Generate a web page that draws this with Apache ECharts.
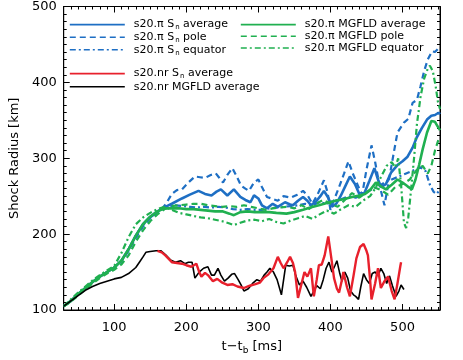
<!DOCTYPE html>
<html><head><meta charset="utf-8">
<script src="https://cdn.jsdelivr.net/npm/echarts@6/dist/echarts.min.js"></script>
<style>html,body{margin:0;padding:0;background:#fff}#c{width:463px;height:360px}</style>
</head><body><div id="c"></div>
<script>
// ---- data (t - t_b [ms], shock radius [km]) ----
const piSnAvg = [[30,105],[40,112],[50,121],[60,129],[70,137],[80,144],[90,150],[100,156],[110,165],[120,180],[130,198],[140,213],[150,223],[160,230],[171,236],[180,240],[194,247],[205,252],[217,257],[226,253],[235,251],[242,256],[248,259],[257,251],[266,259],[275,249],[282,245],[289,242],[294,251],[300,247],[305,238],[312,234],[320,240],[327,236],[337,242],[344,239],[348,238],[355,244],[362,249],[368,244],[373,238],[380,243],[386,250],[391,257],[397,248],[402,236],[408,240],[414,250],[420,262],[427,276],[434,266],[441,251],[447,254],[454,270],[461,287],[466,272],[470,262],[477,266],[484,281],[493,291],[500,296],[507,302],[514,314],[520,328],[527,340],[534,351],[540,356],[545,357],[550,360],[552,358]];
const piSnPole = [[30,105],[40,112],[50,121],[60,129],[70,137],[80,144],[90,150],[100,156],[110,164],[120,178],[130,195],[140,210],[150,221],[160,229],[165,232],[172,240],[180,253],[187,258],[194,259],[203,268],[212,276],[219,275],[226,274],[234,278],[241,280],[246,274],[251,268],[257,278],[264,287],[270,276],[276,264],[282,260],[287,257],[294,268],[300,272],[305,262],[312,249],[318,247],[327,244],[335,250],[345,248],[354,252],[362,257],[369,250],[375,240],[382,252],[391,271],[396,255],[400,232],[405,245],[412,262],[419,280],[425,296],[431,280],[439,262],[444,252],[450,285],[457,317],[462,295],[468,265],[475,238],[481,270],[488,308],[493,334],[502,347],[508,352],[514,373],[520,377],[525,395],[530,415],[535,430],[541,441],[545,440],[549,444],[552,440]];
const piSnEq = [[30,105],[40,112],[50,121],[60,129],[70,137],[80,144],[90,150],[100,156],[110,165],[120,180],[130,198],[140,212],[150,222],[160,229],[165,232],[175,236],[185,238],[195,237],[205,236],[215,235],[225,236],[235,235],[245,236],[255,235],[265,233],[275,232],[285,233],[295,232],[305,232],[315,234],[325,235],[335,236],[345,237],[355,238],[365,240],[375,238],[385,242],[395,240],[405,244],[415,246],[425,250],[435,248],[445,252],[455,258],[465,262],[475,268],[485,272],[495,276],[505,280],[515,284],[525,288],[532,283],[538,265],[543,256],[547,253],[552,258]];
const piMgAvg = [[30,105],[40,112],[50,121],[60,129],[70,137],[80,144],[90,150],[100,156],[110,165],[120,180],[130,198],[140,213],[150,223],[160,230],[170,234],[180,234],[190,234],[200,233],[210,233],[220,232],[230,231],[240,230],[250,230],[260,227],[266,225],[275,229],[285,230],[295,229],[305,229],[315,229],[325,228],[339,227],[350,229],[362,232],[372,235],[384,238],[395,241],[407,244],[418,246],[430,249],[440,251],[448,253],[455,258],[463,268],[470,263],[477,259],[485,265],[493,272],[500,268],[507,263],[513,259],[518,272],[523,291],[528,312],[534,334],[540,349],[545,348],[550,340],[552,337]];
const piMgPole = [[30,105],[40,111],[50,119],[60,127],[70,135],[80,142],[90,148],[100,153],[110,160],[120,172],[130,190],[140,205],[150,217],[160,226],[170,233],[180,237],[190,238],[200,239],[210,240],[220,240],[230,238],[240,237],[250,236],[260,237],[270,236],[280,238],[290,236],[300,234],[310,232],[320,234],[330,235],[340,236],[350,234],[360,238],[370,233],[380,240],[390,245],[400,240],[410,236],[420,245],[430,254],[440,248],[450,255],[460,262],[470,258],[480,252],[490,262],[500,266],[510,272],[520,285],[528,290],[535,280],[540,290],[545,310],[550,325],[552,328]];
const piMgEq = [[30,105],[40,114],[50,123],[60,131],[70,139],[80,146],[90,152],[100,158],[110,175],[120,196],[130,213],[140,222],[150,228],[160,233],[170,236],[180,232],[190,228],[200,226],[210,224],[220,222],[230,221],[240,219],[250,217],[260,214],[266,212],[275,215],[285,218],[295,219],[305,217],[315,220],[325,216],[335,214],[345,218],[355,221],[365,224],[375,220],[385,226],[395,231],[405,227],[415,233],[425,238],[435,236],[445,244],[455,250],[462,260],[470,275],[478,290],[485,295],[490,288],[494,300],[498,265],[502,215],[505,208],[508,222],[512,260],[516,300],[520,345],[525,381],[530,405],[535,418],[538,422],[542,415],[546,395],[549,375],[552,365]];
const nrSnAvg = [[160,178],[166,176],[171,172],[176,167],[180,163],[187,162],[194,161],[200,159],[207,157],[214,161],[218,150],[221,144],[226,149],[230,146],[237,138],[243,141],[250,136],[257,133],[264,134],[271,131],[280,129],[288,132],[296,134],[302,136],[307,142],[314,147],[321,155],[327,170],[331,162],[335,155],[340,163],[344,170],[348,162],[351,150],[355,116],[360,135],[364,150],[368,144],[373,155],[377,118],[381,140],[384,159],[388,160],[392,172],[397,197],[401,170],[405,142],[409,128],[412,123],[416,140],[418,150],[423,130],[427,118],[432,145],[436,168],[441,183],[446,187],[450,178],[452,172],[455,140],[457,114],[462,135],[466,155],[470,129],[475,138],[480,144],[485,125],[489,114],[493,135],[497,158],[498,163]];
const nrMgAvg = [[30,105],[40,112],[50,119],[60,126],[70,131],[80,135],[90,138],[100,141],[110,143],[120,148],[130,156],[135,163],[140,170],[144,176],[150,177],[158,178],[165,178],[171,173],[178,166],[185,163],[192,165],[198,161],[203,163],[208,163],[212,142],[218,150],[224,155],[230,157],[235,146],[239,146],[244,155],[248,146],[253,138],[258,142],[263,147],[267,148],[272,140],[276,133],[280,125],[286,128],[292,135],[298,140],[303,138],[308,146],[312,150],[316,155],[321,150],[326,140],[332,120],[338,159],[343,158],[348,159],[352,145],[357,133],[362,138],[367,130],[373,118],[377,125],[381,132],[386,128],[390,140],[394,155],[398,163],[402,150],[406,158],[409,165],[413,148],[416,138],[420,150],[424,142],[428,125],[432,120],[435,118],[439,114],[442,130],[446,148],[450,140],[454,135],[458,148],[462,150],[466,145],[470,155],[474,148],[478,135],[482,145],[486,132],[491,118],[495,125],[498,133],[500,130],[502,127]];

const xMajorTicks = [100,200,300,400,500];
const xMinorTicks = [40,50,60,70,80,90,110,120,130,140,150,160,170,180,190,210,220,230,240,250,260,270,280,290,310,320,330,340,350,360,370,380,390,410,420,430,440,450,460,470,480,490,510,520,530,540,550];

const BLUE = '#1e6fc4', GREEN = '#20b050', RED = '#e8202c', BLACK = '#000';
const FONT = 'DejaVu Sans';

const labels = {
  piSnAvg: 's20.π S{sub|n} average',
  piSnPole: 's20.π S{sub|n} pole',
  piSnEq: 's20.π S{sub|n} equator',
  piMgAvg: 's20.π MGFLD average',
  piMgPole: 's20.π MGFLD pole',
  piMgEq: 's20.π MGFLD equator',
  nrSnAvg: 's20.nr S{sub|n} average',
  nrMgAvg: 's20.nr MGFLD average'
};
const DASH = [6,4], DASHDOT = [6,3,2,3];

function mkSeries(name, data, color, type, width) {
  return {name, type:'line', data, symbol:'circle', showSymbol:false, symbolSize:0,
    xAxisIndex:0, yAxisIndex:0,
    lineStyle:{color, width, type}, itemStyle:{color}, animation:false, z:2};
}
const series = [
  mkSeries('piSnPole', piSnPole, BLUE, DASH, 2.2),
  mkSeries('piSnEq', piSnEq, BLUE, DASHDOT, 2.2),
  mkSeries('piSnAvg', piSnAvg, BLUE, 'solid', 2.6),
  mkSeries('piMgPole', piMgPole, GREEN, DASH, 2.2),
  mkSeries('piMgEq', piMgEq, GREEN, DASHDOT, 2.2),
  mkSeries('piMgAvg', piMgAvg, GREEN, 'solid', 2.6),
  mkSeries('nrMgAvg', nrMgAvg, BLACK, 'solid', 1.6),
  mkSeries('nrSnAvg', nrSnAvg, RED, 'solid', 2.4)
];

const legendText = {
  fontFamily: FONT, fontSize: 11, color: '#000', padding:[0,0,0,4],
  rich: { sub: { fontFamily: FONT, fontSize: 7, padding:[6,0,0,1] } }
};
function mkLegend(data, left, top) {
  return {data, left, top, orient:'vertical', itemWidth:55, itemHeight:14, itemGap:0.5,
    selectedMode:false, textStyle: legendText,
    itemStyle:{opacity:0, borderWidth:0},
    lineStyle:{width:1.6}, formatter: n => labels[n]};
}

const axisLineStyle = {color:'#000', width:1};
const chart = echarts.init(document.getElementById('c'), null, {renderer:'canvas'});
chart.setOption({
  animation:false,
  backgroundColor:'#fff',
  grid:{left:56, right:23, top:4, bottom:44, show:true, borderColor:'#000', borderWidth:1},
  legend:[
    mkLegend(['piSnAvg','piSnPole','piSnEq'], 64, 14),
    mkLegend(['piMgAvg','piMgPole','piMgEq'], 235, 14),
    Object.assign(mkLegend(['nrSnAvg','nrMgAvg'], 64, 63), {itemGap:1})
  ],
  xAxis:[
    {type:'value', min:30, max:552, position:'bottom',
     axisLine:{show:true, lineStyle:axisLineStyle},
     axisTick:{show:true, inside:true, length:6, lineStyle:axisLineStyle, customValues:xMajorTicks},
     axisLabel:{show:true, margin:11, fontFamily:FONT, fontSize:13, color:'#000', customValues:xMajorTicks},
     splitLine:{show:false},
     name:'t−t{sub|b} [ms]', nameLocation:'middle', nameGap:29,
     nameTextStyle:{fontFamily:FONT, fontSize:13, color:'#000',
       rich:{sub:{fontFamily:FONT, fontSize:9, padding:[7,0,0,0]}}}},
    {type:'value', min:30, max:552, position:'bottom',
     axisLine:{show:false}, axisLabel:{show:false}, splitLine:{show:false},
     axisTick:{show:true, inside:true, length:3, lineStyle:axisLineStyle, customValues:xMinorTicks}},
    {type:'value', min:30, max:552, position:'top',
     axisLine:{show:true, lineStyle:axisLineStyle}, axisLabel:{show:false}, splitLine:{show:false},
     axisTick:{show:true, inside:true, length:6, lineStyle:axisLineStyle, customValues:xMajorTicks}},
    {type:'value', min:30, max:552, position:'top',
     axisLine:{show:false}, axisLabel:{show:false}, splitLine:{show:false},
     axisTick:{show:true, inside:true, length:3, lineStyle:axisLineStyle, customValues:xMinorTicks}}
  ],
  yAxis:[
    {type:'value', min:100, max:500, interval:100, position:'left',
     axisLine:{show:true, lineStyle:axisLineStyle},
     axisTick:{show:true, inside:true, length:6, lineStyle:axisLineStyle},
     minorTick:{show:true, splitNumber:10, length:3, lineStyle:axisLineStyle},
     axisLabel:{margin:7, fontFamily:FONT, fontSize:13, color:'#000'},
     splitLine:{show:false}, minorSplitLine:{show:false},
     name:'Shock Radius [km]', nameLocation:'middle', nameGap:38,
     nameTextStyle:{fontFamily:FONT, fontSize:13, color:'#000'}},
    {type:'value', min:100, max:500, interval:100, position:'right',
     axisLine:{show:true, lineStyle:axisLineStyle},
     axisTick:{show:true, inside:true, length:6, lineStyle:axisLineStyle},
     minorTick:{show:true, splitNumber:10, length:3, lineStyle:axisLineStyle},
     axisLabel:{show:false}, splitLine:{show:false}, minorSplitLine:{show:false}}
  ],
  series
});
</script></body></html>
